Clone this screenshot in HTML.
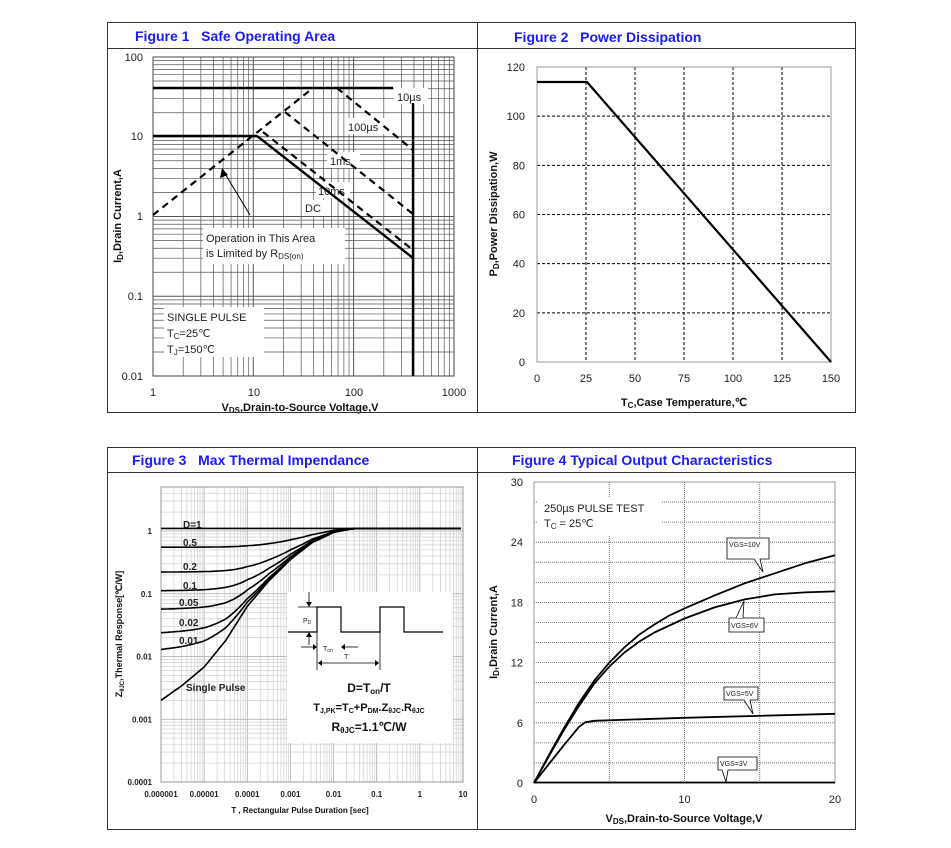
<!DOCTYPE html>
<html><head><meta charset="utf-8">
<style>
html,body{margin:0;padding:0;background:#fff;}
svg{display:block;font-family:"Liberation Sans",Arial,sans-serif;}
.t{font-weight:bold;fill:#1a1aff;font-size:14px;}
.tk{font-size:11px;fill:#222;}
.ax{font-size:11px;font-weight:bold;fill:#111;}
</style></head><body>
<svg id="s" width="951" height="848" viewBox="0 0 951 848" xmlns="http://www.w3.org/2000/svg">
<rect width="951" height="848" fill="#fff"/>
<g id="g"></g>
<!-- frames -->
<g stroke="#333" stroke-width="1" fill="none">
<rect x="107.5" y="22.5" width="748" height="390"/>
<line x1="477.5" y1="22" x2="477.5" y2="413"/>
<line x1="107" y1="48.5" x2="856" y2="48.5"/>
<rect x="107.5" y="447.5" width="748" height="382"/>
<line x1="477.5" y1="447" x2="477.5" y2="830"/>
<line x1="107" y1="472.5" x2="856" y2="472.5"/>
</g>
<text class="t" x="135" y="41">Figure 1 &#160; Safe Operating Area</text>
<text class="t" x="514" y="42">Figure 2 &#160; Power Dissipation</text>
<text class="t" x="132" y="465">Figure 3 &#160; Max Thermal Impendance</text>
<text class="t" x="512" y="465">Figure 4 Typical Output Characteristics</text>
</svg>
<script>
var g=document.getElementById('g');var h='';
function L(x1,y1,x2,y2,st){h+='<line x1="'+x1+'" y1="'+y1+'" x2="'+x2+'" y2="'+y2+'" '+st+'/>';}
function T(x,y,s,cl,anc,extra){h+='<text x="'+x+'" y="'+y+'" class="'+(cl||'tk')+'" text-anchor="'+(anc||'start')+'" '+(extra||'')+'>'+s+'</text>';}
function P(pts,st){h+='<polyline fill="none" points="'+pts.map(function(p){return p[0].toFixed(1)+','+p[1].toFixed(1)}).join(' ')+'" '+st+'/>';}
var lg=Math.log10;
/* ---------- Figure 1 ---------- */
var X1=function(v){return 153+100.3*lg(v)},Y1=function(i){return 376-79.75*(lg(i)+2)};
for(var d=0;d<3;d++)for(var k=1;k<10;k++){var x=X1(k*Math.pow(10,d));L(x,57,x,376,'stroke="#555" stroke-width="'+(k==1?1:0.7)+'"');}
for(var d=-2;d<2;d++)for(var k=1;k<10;k++){var y=Y1(k*Math.pow(10,d));L(153,y,454,y,'stroke="#555" stroke-width="'+(k==1?1:0.7)+'"');}
h+='<rect x="153" y="57" width="301" height="319" fill="none" stroke="#444" stroke-width="1"/>';
[['100',57],['10',136],['1',216],['0.1',296],['0.01',376]].forEach(function(a){T(143,a[1]+4,a[0],'tk','end');});
[['1',153],['10',254],['100',354],['1000',454]].forEach(function(a){T(a[1],396,a[0],'tk','middle');});
T(300,411,'V<tspan font-size="8" dy="2">DS</tspan><tspan dy="-2">,Drain-to-Source Voltage,V</tspan>','ax','middle');
T(121,216,'I<tspan font-size="8" dy="2">D</tspan><tspan dy="-2">,Drain Current,A</tspan>','ax','middle','transform="rotate(-90 121 216)"');
// white label backgrounds
function W(x,y,w,hh){h+='<rect x="'+x+'" y="'+y+'" width="'+w+'" height="'+hh+'" fill="#fff"/>';}
W(394,88,34,16);W(345,118,40,16);W(327,152,33,16);W(316,182,34,16);W(303,200,24,16);W(203,228,142,36);W(164,307,100,50);
var S='stroke="#000" stroke-width="2.4"',D='stroke="#000" stroke-width="2.2" stroke-dasharray="7,5"';
L(153,88,393,88,S);L(153,136,257,136,S);L(257,136,413,258,S);L(413,103,413,376,S);
L(153,215,313,88,D);L(337,88,413,150,D);L(285,112,413,214,D);L(263,132,413,250,D);
h+='<line x1="250" y1="215" x2="224" y2="172" stroke="#000" stroke-width="1"/><polygon points="222,168 220,178 228,175" fill="#000"/>';
T(397,101,'10µs','tk');T(348,131,'100µs','tk');T(330,165,'1ms','tk');T(318,195,'10ms','tk');T(305,212,'DC','tk');
T(206,242,'Operation in This Area','tk');T(206,257,'is Limited by R<tspan font-size="8" dy="2">DS(on)</tspan>','tk');
T(167,321,'SINGLE PULSE','tk');T(167,337,'T<tspan font-size="8" dy="2">C</tspan><tspan dy="-2">=25℃</tspan>','tk');T(167,353,'T<tspan font-size="8" dy="2">J</tspan><tspan dy="-2">=150℃</tspan>','tk');
/* ---------- Figure 2 ---------- */
var X2=function(t){return 537+294*t/150},Y2=function(p){return 362-295*p/120};
for(var t=25;t<150;t+=25)L(X2(t),67,X2(t),362,'stroke="#000" stroke-width="1" stroke-dasharray="3,2"');
for(var p=20;p<120;p+=20)L(537,Y2(p),831,Y2(p),'stroke="#000" stroke-width="1" stroke-dasharray="3,2"');
h+='<rect x="537" y="67" width="294" height="295" fill="none" stroke="#999" stroke-width="1"/>';
for(var p=0;p<=120;p+=20)T(525,Y2(p)+4,p,'tk','end');
for(var t=0;t<=150;t+=25)T(X2(t),382,t,'tk','middle');
P([[537,82],[587,82],[831,362]],'stroke="#000" stroke-width="2.2"');
T(684,406,'T<tspan font-size="8" dy="2">C</tspan><tspan dy="-2">,Case Temperature,℃</tspan>','ax','middle');
T(497,214,'P<tspan font-size="8" dy="2">D</tspan><tspan dy="-2">,Power Dissipation,W</tspan>','ax','middle','transform="rotate(-90 497 214)"');
/* ---------- Figure 3 ---------- */
var X3=function(t){return 161+43.14*(lg(t)+6)},Y3=function(z){return 782-62.75*(lg(z)+4)};
for(var d=-6;d<1;d++)for(var k=1;k<10;k++){var x=X3(k*Math.pow(10,d));L(x,487,x,782,'stroke="'+(k==1?'#aaa':'#d4d4d4')+'" stroke-width="0.8"');}
for(var d=-4;d<1;d++)for(var k=1;k<10;k++){var z=k*Math.pow(10,d);if(lg(z)>0.7)continue;var y=Y3(z);L(161,y,463,y,'stroke="'+(k==1?'#aaa':'#d4d4d4')+'" stroke-width="0.8"');}
h+='<rect x="161" y="487" width="302" height="295" fill="none" stroke="#999" stroke-width="1"/>';
[['1',1],['0.1',0.1],['0.01',0.01],['0.001',0.001],['0.0001',0.0001]].forEach(function(a){T(152,Y3(a[1])+3,a[0],'tk','end','style="font-size:8px;font-weight:bold"');});
['0.000001','0.00001','0.0001','0.001','0.01','0.1','1','10'].forEach(function(s,i){T(161+43.14*i,797,s,'tk','middle','style="font-size:8px;font-weight:bold"');});
T(300,813,'T , Rectangular Pulse Duration [sec]','ax','middle','style="font-size:8px"');
T(122,634,'Z<tspan font-size="6" dy="2">θJC</tspan><tspan dy="-2">,Thermal Response[℃/W]</tspan>','ax','middle','style="font-size:9px" transform="rotate(-90 122 634)"');
var sp=[[-6,lg(0.002)],[-5.5,lg(0.0035)],[-5,lg(0.0068)],[-4.5,lg(0.018)],[-4,lg(0.063)],[-3.5,lg(0.16)],[-3,lg(0.35)],[-2.5,lg(0.65)],[-2,lg(0.95)],[-1.6,lg(1.08)],[-1.3,lg(1.1)],[1,lg(1.1)]];
function s(lt){for(var i=0;i<sp.length-1;i++){if(lt<=sp[i+1][0]){var f=(lt-sp[i][0])/(sp[i+1][0]-sp[i][0]);return Math.pow(10,sp[i][1]+f*(sp[i+1][1]-sp[i][1]));}}return 1.1;}
[1,0.5,0.2,0.1,0.05,0.02,0.01,0].forEach(function(D){var pts=[];for(var lt=-6;lt<=0.95;lt+=0.05){var v=D>0?1.1*D+(1-D)*s(lt):s(lt);pts.push([X3(Math.pow(10,lt)),Y3(v)]);}P(pts,'stroke="#000" stroke-width="1.6"');});
[['D=1',524],['0.5',542],['0.2',566],['0.1',585],['0.05',602],['0.02',622],['0.01',640]].forEach(function(a,i){T(i>3?179:183,a[1]+4,a[0],'tk','start','style="font-size:10px;font-weight:bold"');});
T(186,691,'Single Pulse','tk','start','style="font-size:10px;font-weight:bold"');
h+='<rect x="287" y="592" width="166" height="151" fill="#fff"/>';
P([[288,632],[317,632],[317,607],[341,607],[341,632],[380,632],[380,607],[404,607],[404,632],[443,632]],'stroke="#000" stroke-width="1.2"');
L(309,592,309,604,'stroke="#000" stroke-width="0.8"');h+='<polygon points="306,602 312,602 309,607" fill="#000"/>';
L(309,645,309,634,'stroke="#000" stroke-width="0.8"');h+='<polygon points="306,637 312,637 309,632" fill="#000"/>';
L(298,607,317,607,'stroke="#000" stroke-width="0.8"');
T(303,623,'P<tspan font-size="5" dy="1">D</tspan>','tk','start','style="font-size:7px"');
L(301,647,316,647,'stroke="#000" stroke-width="0.8"');h+='<polygon points="313,644 313,650 317,647" fill="#000"/>';
L(358,647,342,647,'stroke="#000" stroke-width="0.8"');h+='<polygon points="345,644 345,650 341,647" fill="#000"/>';
T(323,651,'T<tspan font-size="5" dy="1">on</tspan>','tk','start','style="font-size:7px"');T(344,659,'T','tk','start','style="font-size:7px"');
L(317,632,317,670,'stroke="#000" stroke-width="0.8"');L(380,632,380,670,'stroke="#000" stroke-width="0.8"');
L(318,663,379,663,'stroke="#000" stroke-width="0.8"');h+='<polygon points="318,663 322,660 322,666" fill="#000"/><polygon points="379,663 375,660 375,666" fill="#000"/>';
T(369,692,'D=T<tspan font-size="8" dy="2">on</tspan><tspan dy="-2">/T</tspan>','ax','middle','style="font-size:12px"');
T(369,711,'T<tspan font-size="7" dy="2">J,PK</tspan><tspan dy="-2">=T</tspan><tspan font-size="7" dy="2">C</tspan><tspan dy="-2">+P</tspan><tspan font-size="7" dy="2">DM</tspan><tspan dy="-2">.Z</tspan><tspan font-size="7" dy="2">θJC</tspan><tspan dy="-2">.R</tspan><tspan font-size="7" dy="2">θJC</tspan>','ax','middle','style="font-size:11px"');
T(369,731,'R<tspan font-size="8" dy="2">θJC</tspan><tspan dy="-2">=1.1℃/W</tspan>','ax','middle','style="font-size:12px"');
/* ---------- Figure 4 ---------- */
var X4=function(v){return 534+301*v/20},Y4=function(i){return 783-301*i/30};
for(var v=5;v<20;v+=5)L(X4(v),482,X4(v),783,'stroke="#555" stroke-width="0.8" stroke-dasharray="1,1"');
for(var i=2;i<30;i+=2)L(534,Y4(i),835,Y4(i),'stroke="#555" stroke-width="0.8" stroke-dasharray="1,1"');
h+='<rect x="534" y="482" width="301" height="301" fill="none" stroke="#999" stroke-width="1"/>';
for(var i=0;i<=30;i+=6)T(523,Y4(i)+4,i,'tk','end');
[[0,'0'],[10,'10'],[20,'20']].forEach(function(a){T(X4(a[0]),803,a[1],'tk','middle');});
T(684,822,'V<tspan font-size="8" dy="2">DS</tspan><tspan dy="-2">,Drain-to-Source Voltage,V</tspan>','ax','middle');
T(497,632,'I<tspan font-size="8" dy="2">D</tspan><tspan dy="-2">,Drain Current,A</tspan>','ax','middle','transform="rotate(-90 497 632)"');
W(538,497,124,38);
T(544,512,'250µs PULSE TEST','tk');T(544,527,'T<tspan font-size="8" dy="2">C</tspan><tspan dy="-2"> = 25℃</tspan>','tk');
function C(a){P(a.map(function(p){return [X4(p[0]),Y4(p[1])]}),'stroke="#000" stroke-width="1.8" stroke-linejoin="round"');}
C([[0,0],[1,2.8],[2,5.5],[3,8],[4,10.2],[5,12],[6,13.5],[7,14.8],[8,15.8],[9,16.7],[10,17.4],[12,18.7],[14,19.9],[16,20.9],[18,21.9],[20,22.7]]);
C([[0,0],[1,2.7],[2,5.3],[3,7.7],[4,9.9],[5,11.6],[6,13],[7,14.1],[8,15],[10,16.4],[12,17.5],[14,18.3],[16,18.8],[18,19],[20,19.1]]);
C([[0,0],[1,1.9],[2,3.8],[3,5.6],[3.4,6.05],[4,6.2],[10,6.5],[20,6.9]]);
C([[0,0.05],[20,0.05]]);
function B(x,y,w,hh,px,py,bx,s){h+='<path d="M'+x+','+y+' h'+w+' v'+hh+' h'+(-(x+w-bx-6))+' L'+px+','+py+' L'+bx+','+(y+hh)+' H'+x+' Z" fill="#fff" stroke="#000" stroke-width="0.8"/>';T(x+2,y+9,s,'tk','start','style="font-size:7px"');}
B(727,538,42,21,763,572,754,'VGS=10V');
B(724,687,34,13,753,714,744,'VGS=5V');
B(718,757,39,13,726,782,722,'VGS=3V');
h+='<path d="M729,618 h35 v14 h-35 Z" fill="#fff" stroke="#000" stroke-width="0.8"/><path d="M736,618 L744,601 L743,618" fill="#fff" stroke="#000" stroke-width="0.8"/>';T(731,628,'VGS=6V','tk','start','style="font-size:7px"');
g.innerHTML=h;
</script>
</body></html>
